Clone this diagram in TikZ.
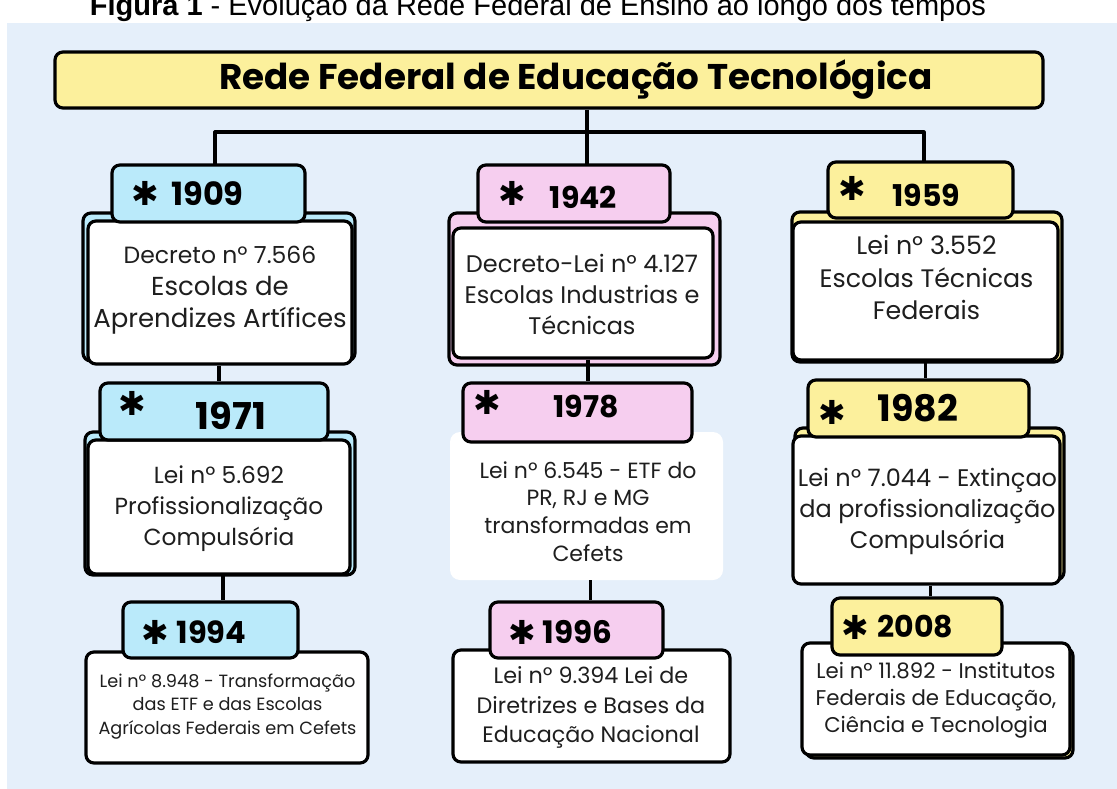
\documentclass[tikz,border=0pt]{standalone}
\usepackage{fontspec}
\setmainfont{Poppins}
\newfontfamily\capfont{Liberation Sans}
\newfontfamily\symfont{DejaVu Sans}

\definecolor{bgblue}{RGB}{229,239,250}
\definecolor{ylw}{RGB}{252,240,156}
\definecolor{cyn}{RGB}{186,234,250}
\definecolor{pnk}{RGB}{246,206,239}
\definecolor{ink}{RGB}{30,30,30}

\tikzset{
  box/.style={draw=black, line width=3.2pt, rounded corners=8pt, inner sep=0pt},
  front/.style={box, fill=white},
  tabbox/.style={box, minimum height=57pt},
  conn/.style={draw=black, line width=3.2pt},
  yr/.style={font=\fontsize{30}{30}\selectfont\bfseries, inner sep=0pt},
  st/.style={font=\symfont\fontsize{33}{33}\selectfont, inner sep=0pt},
  txt/.style={align=center, inner sep=0pt, text=ink},
}

\begin{document}
\begin{tikzpicture}[x=1pt,y=-1pt]
\useasboundingbox (0,0) rectangle (1117,789);
\clip (0,0) rectangle (1117,789);
\fill[white] (0,0) rectangle (1117,789);
\fill[bgblue] (7,23) rectangle (1117,789);

% caption (cut at the top, as in the reference)
\node[anchor=base, inner sep=0pt, font=\capfont\fontsize{29}{29}\selectfont] (caption) at (538,16)
  {\textbf{Figura 1} - Evolução da Rede Federal de Ensino ao longo dos tempos};

% title
\node[box, fill=ylw, minimum width=988pt, minimum height=56pt,
      font=\fontsize{35.7}{36}\selectfont\bfseries] (title) at (549,80)
  {\hspace*{54pt}Rede Federal de Educação Tecnológica};

% cards (back layers)
\node[box, fill=cyn, minimum width=272pt, minimum height=148pt] (k1909) at (219,287) {};
\node[box, fill=pnk, minimum width=271pt, minimum height=152pt] (k1942) at (584.5,289) {};
\node[box, fill=ylw, minimum width=270pt, minimum height=150pt] (k1959) at (927,287) {};
\node[box, fill=cyn, minimum width=270pt, minimum height=143pt] (k1971) at (220,503.5) {};
\node[box, fill=ylw, minimum width=269pt, minimum height=152pt] (k1982) at (929.5,504) {};
\node[box, fill=ylw, minimum width=267pt, minimum height=110pt] (k2008) at (939.5,703) {};

% connectors
\coordinate (hub) at (587,132);
\coordinate (hl) at (215,132);
\coordinate (hr) at (924,132);
\draw[conn] (title.south -| hub) -- (hub);
\draw[conn, line join=round] (hl |- k1909.north) -- (hl) -- (hr) -- (hr |- k1959.north);
\draw[conn] (hub) -- (hub |- k1942.north);

% front cards
\node[front, minimum width=264pt, minimum height=143pt] (c1909) at (220,292.5) {};
\node[front, minimum width=260pt, minimum height=130pt] (c1942) at (583,293) {};
\node[front, minimum width=265pt, minimum height=138pt] (c1959) at (925.5,291) {};
\node[front, minimum width=262pt, minimum height=134pt] (c1971) at (219,507) {};
\node[fill=white, rounded corners=10pt, inner sep=0pt, minimum width=273pt, minimum height=148pt] (c1978) at (586.5,506) {};
\node[front, minimum width=267pt, minimum height=148pt] (c1982) at (926.5,510) {};
\node[front, minimum width=282pt, minimum height=111pt] (c1994) at (227,707.5) {};
\node[front, minimum width=277pt, minimum height=112pt] (c1996) at (591.5,706) {};
\node[front, minimum width=268pt, minimum height=112pt] (c2008) at (936,699) {};

% tabs
\node[tabbox, fill=cyn, minimum width=193pt] (t1909) at (208.5,193.5) {};
\node[tabbox, fill=pnk, minimum width=192pt] (t1942) at (574,193.5) {};
\node[tabbox, fill=ylw, minimum width=185pt, minimum height=56pt] (t1959) at (920.5,190) {};
\node[tabbox, fill=cyn, minimum width=228pt] (t1971) at (214,411.5) {};
\node[tabbox, fill=pnk, minimum width=229pt, minimum height=59pt] (t1978) at (577.5,412.5) {};
\node[tabbox, fill=ylw, minimum width=221pt] (t1982) at (918.5,408.5) {};
\node[tabbox, fill=cyn, minimum width=175pt, minimum height=56pt] (t1994) at (210.5,630) {};
\node[tabbox, fill=pnk, minimum width=173pt, minimum height=56pt] (t1996) at (576.5,630) {};
\node[tabbox, fill=ylw, minimum width=170pt] (t2008) at (917,626.5) {};

% vertical connectors between cards and tabs
\draw[conn] ([xshift=-1pt]c1909.south) -- ([xshift=-1pt]c1909.south |- t1971.north);
\draw[conn] ([xshift=4pt]c1971.south) -- ([xshift=4pt]c1971.south |- t1994.north);
\draw[conn] ([xshift=5pt]c1942.south) -- ([xshift=5pt]c1942.south |- t1978.north);
\draw[conn] ([xshift=4pt]c1978.south) -- ([xshift=4pt]c1978.south |- t1996.north);
\draw[conn] (c1959.south) -- (c1959.south |- t1982.north);
\draw[conn] ([xshift=4pt]c1982.south) -- ([xshift=4pt]c1982.south |- t2008.north);

% stars and years
\node[st] (s1909) at (145,193) {✱};
\node[yr, font=\fontsize{32}{32}\selectfont\bfseries] (y1909) at (207.5,194) {1909};
\node[st] (s1942) at (512,193) {✱};
\node[yr] (y1942) at (583.5,197) {1942};
\node[st] (s1959) at (852,188) {✱};
\node[yr] (y1959) at (926.5,195) {1959};
\node[st] (s1971) at (132,403) {✱};
\node[yr, font=\fontsize{37}{37}\selectfont\bfseries] (y1971) at (231,416) {1971};
\node[st] (s1978) at (487,402) {✱};
\node[yr] (y1978) at (586,407) {1978};
\node[st] (s1982) at (832,412) {✱};
\node[yr, font=\fontsize{36.5}{37}\selectfont\bfseries] (y1982) at (918,408) {1982};
\node[st] (s1994) at (155,632) {✱};
\node[yr, font=\fontsize{30.5}{31}\selectfont\bfseries] (y1994) at (211.5,632) {1994};
\node[st] (s1996) at (522,632) {✱};
\node[yr, font=\fontsize{31}{31}\selectfont\bfseries] (y1996) at (577.5,632) {1996};
\node[st] (s2008) at (855,627) {✱};
\node[yr] (y2008) at (915.5,627) {2008};

% texts
\node[txt, font=\fontsize{26}{32}\selectfont] (x1909) at (220,290)
  {{\fontsize{23.5}{32}\selectfont Decreto nº 7.566}\\Escolas de\\Aprendizes Artífices};
\node[txt, font=\fontsize{24}{31}\selectfont] (x1942) at (582,294)
  {Decreto-Lei nº 4.127\\Escolas Industrias e\\Técnicas};
\node[txt, font=\fontsize{25.3}{32.5}\selectfont] (x1959) at (926.5,277.5)
  {Lei nº 3.552\\Escolas Técnicas\\Federais};
\node[txt, font=\fontsize{23.3}{31}\selectfont] (x1971) at (219,509)
  {Lei nº 5.692\\Profissionalização\\Compulsória};
\node[txt, font=\fontsize{22}{27.7}\selectfont] (x1978) at (588,511.5)
  {Lei nº 6.545 - ETF do\\PR, RJ e MG\\transformadas em\\Cefets};
\node[txt, font=\fontsize{24}{31}\selectfont] (x1982) at (927.5,511)
  {Lei nº 7.044 - Extinçao\\da profissionalização\\Compulsória};
\node[txt, font=\fontsize{17.7}{23.5}\selectfont] (x1994) at (227.5,706.5)
  {Lei nº 8.948 - Transformação\\das ETF e das Escolas\\Agrícolas Federais em Cefets};
\node[txt, font=\fontsize{22.3}{29.5}\selectfont] (x1996) at (591,707.5)
  {Lei nº 9.394 Lei de\\Diretrizes e Bases da\\Educação Nacional};
\node[txt, font=\fontsize{21.3}{27}\selectfont] (x2008) at (936,700)
  {Lei nº 11.892 - Institutos\\Federais de Educação,\\Ciência e Tecnologia};
\end{tikzpicture}
\end{document}
